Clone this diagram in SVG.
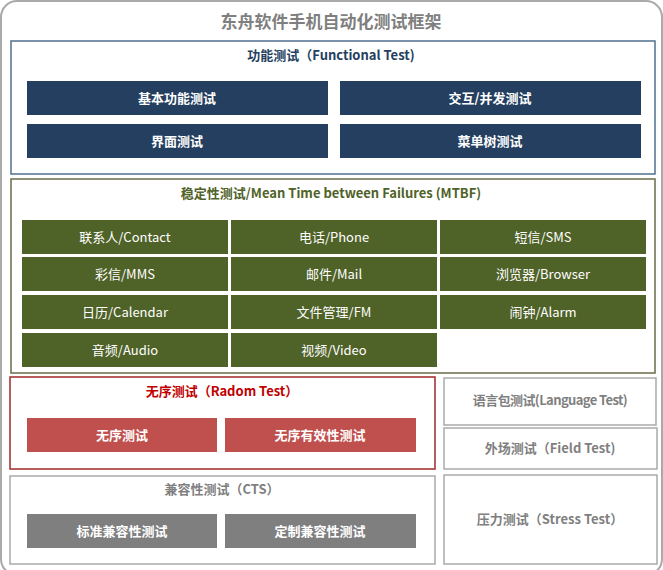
<svg xmlns="http://www.w3.org/2000/svg" width="663" height="570" viewBox="0 0 663 570">
<style>
text{font-family:"Noto Sans CJK SC","Noto Sans",sans-serif;text-anchor:middle;font-weight:bold}
.w{fill:#fff;font-size:13px}
.b{fill:#243f60}.g{fill:#4f6228}.r{fill:#c0504d}.k{fill:#7f7f7f}
.gw{fill:#fff;font-size:13px;font-weight:normal}
.box{fill:#fff;stroke-width:1.5}
.t{font-size:13px}
</style>
<rect x="1" y="1" width="661" height="574" rx="16" fill="#fff" stroke="#aaa" stroke-width="2"/>
<text x="331" y="28" font-size="17" fill="#7f7f7f">东舟软件手机自动化测试框架</text>
<g id="functional">
<rect class="box" x="11" y="41" width="644" height="133" stroke="#4f6f8f"/>
<text class="t" x="331" y="60" fill="#243f60">功能测试（Functional Test)</text>
<rect class="b" x="27" y="81" width="301" height="34"/><text class="w" x="177" y="103">基本功能测试</text>
<rect class="b" x="340" y="81" width="301" height="34"/><text class="w" x="490" y="103">交互/并发测试</text>
<rect class="b" x="27" y="124" width="301" height="34"/><text class="w" x="177" y="146">界面测试</text>
<rect class="b" x="340" y="124" width="301" height="34"/><text class="w" x="490" y="146">菜单树测试</text>
</g>
<g id="mtbf">
<rect class="box" x="11" y="179" width="644" height="194" stroke="#6b6b48"/>
<text class="t" x="331" y="198" fill="#4f6228">稳定性测试/Mean Time between Failures (MTBF)</text>
<rect class="g" x="22" y="220" width="206" height="34"/><text class="gw" x="125" y="242">联系人/Contact</text>
<rect class="g" x="231" y="220" width="206" height="34"/><text class="gw" x="334" y="242">电话/Phone</text>
<rect class="g" x="440" y="220" width="206" height="34"/><text class="gw" x="543" y="242">短信/SMS</text>
<rect class="g" x="22" y="257" width="206" height="34"/><text class="gw" x="125" y="279">彩信/MMS</text>
<rect class="g" x="231" y="257" width="206" height="34"/><text class="gw" x="334" y="279">邮件/Mail</text>
<rect class="g" x="440" y="257" width="206" height="34"/><text class="gw" x="543" y="279">浏览器/Browser</text>
<rect class="g" x="22" y="295" width="206" height="34"/><text class="gw" x="125" y="317">日历/Calendar</text>
<rect class="g" x="231" y="295" width="206" height="34"/><text class="gw" x="334" y="317">文件管理/FM</text>
<rect class="g" x="440" y="295" width="206" height="34"/><text class="gw" x="543" y="317">闹钟/Alarm</text>
<rect class="g" x="22" y="333" width="206" height="34"/><text class="gw" x="125" y="355">音频/Audio</text>
<rect class="g" x="231" y="333" width="206" height="34"/><text class="gw" x="334" y="355">视频/Video</text>
</g>
<g id="random">
<rect class="box" x="10" y="377" width="425" height="92" stroke="#a0282a"/>
<text class="t" x="222" y="396" fill="#c00000">无序测试（Radom Test）</text>
<rect class="r" x="27" y="418" width="190" height="34"/><text class="w" x="122" y="440">无序测试</text>
<rect class="r" x="225" y="418" width="191" height="34"/><text class="w" x="320" y="440">无序有效性测试</text>
</g>
<g id="cts">
<rect class="box" x="10" y="476" width="425" height="88" stroke="#aaa"/>
<text class="t" x="222" y="494" fill="#7f7f7f">兼容性测试（CTS）</text>
<rect class="k" x="27" y="514" width="190" height="34"/><text class="w" x="122" y="536">标准兼容性测试</text>
<rect class="k" x="225" y="514" width="191" height="34"/><text class="w" x="320" y="536">定制兼容性测试</text>
</g>
<g id="language"><rect class="box" x="444" y="378" width="212" height="47" stroke="#aaa"/><text class="t" x="550" y="405" fill="#7f7f7f" letter-spacing="-0.6">语言包测试(Language Test)</text></g>
<g id="field"><rect class="box" x="444" y="428" width="213" height="41" stroke="#aaa"/><text class="t" x="550" y="453" fill="#7f7f7f">外场测试（Field Test)</text></g>
<g id="stress"><rect class="box" x="444" y="475" width="213" height="89" stroke="#aaa"/><text class="t" x="550" y="524" fill="#7f7f7f">压力测试（Stress Test）</text></g>
<g id="connectors"/>
</svg>
